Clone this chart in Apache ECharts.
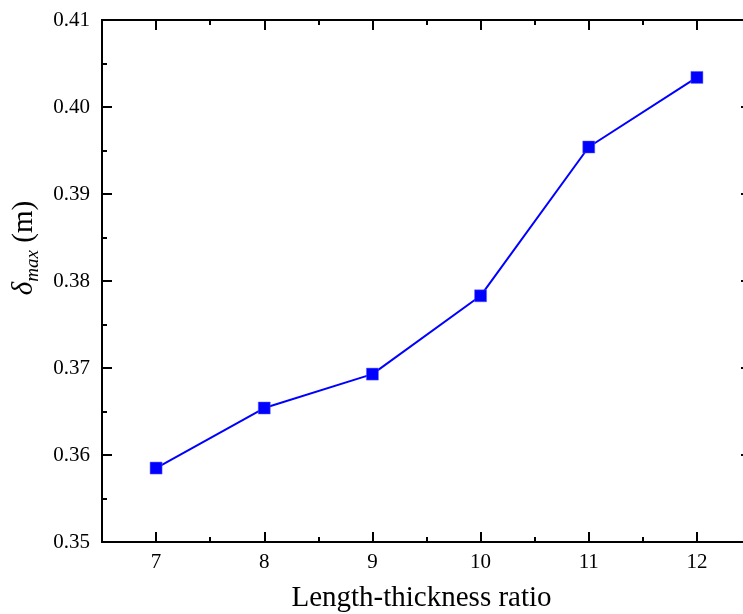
<!DOCTYPE html>
<html>
<head>
<meta charset="utf-8">
<script src="https://cdn.jsdelivr.net/npm/echarts@6/dist/echarts.min.js"></script>
<style>html,body{margin:0;padding:0;background:#fff;}#c{width:743px;height:614px;}</style>
</head>
<body>
<div id="c"></div>
<script>
// Data
var ratios = [7, 8, 9, 10, 11, 12];
var deltaMax = [0.3585, 0.3654, 0.3693, 0.3783, 0.3954, 0.4034];
var xTickValues = [7, 8, 9, 10, 11, 12];
var xMinorTickValues = [7.5, 8.5, 9.5, 10.5, 11.5];
var yTickValues = [0.35, 0.36, 0.37, 0.38, 0.39, 0.40, 0.41];
var yMinorTickValues = [0.355, 0.365, 0.375, 0.385, 0.395, 0.405];
var xAxisTitle = 'Length-thickness ratio';

var FONT = 'Liberation Serif';
var GRID_W = 649;
var chart = echarts.init(document.getElementById('c'));
var seriesData = ratios.map(function (r, i) { return [r, deltaMax[i]]; });
function axLine() { return {show: true, onZero: false, lineStyle: {color: '#000', width: 2}}; }

function xAx(pos, ticks, len, labels) {
  return {
    type: 'value', position: pos, min: 6.5, max: 12.5,
    axisLine: axLine(),
    axisTick: {show: true, inside: true, length: len, customValues: ticks, lineStyle: {color: '#000', width: 2}},
    axisLabel: labels ? {show: true, customValues: ticks, margin: 10, color: '#000', fontFamily: FONT, fontSize: 21} : {show: false},
    splitLine: {show: false}
  };
}
function yTickAx(pos, ticks, len, extra) {
  var a = {
    type: 'value', position: pos, min: 0.35, max: 0.41,
    axisLine: axLine(),
    axisTick: {show: true, inside: true, length: len, customValues: ticks, lineStyle: {color: '#000', width: 2}},
    axisLabel: {show: false},
    splitLine: {show: false}
  };
  return Object.assign(a, extra || {});
}

var option = {
  backgroundColor: '#fff',
  animation: false,
  grid: {left: 102, top: 20, width: GRID_W, height: 522, outerBoundsMode: 'none', containLabel: false},
  xAxis: [
    Object.assign(xAx('bottom', xTickValues, 10, true), {
      name: xAxisTitle, nameLocation: 'middle', nameGap: 42,
      nameTextStyle: {color: '#000', fontFamily: FONT, fontSize: 29, padding: [0, 10, 0, 0]}
    }),
    xAx('bottom', xMinorTickValues, 5, false),
    xAx('top', xTickValues, 10, false),
    xAx('top', xMinorTickValues, 5, false)
  ],
  yAxis: [
    {
      type: 'value', position: 'left', min: 0.35, max: 0.41, interval: 0.01,
      axisLine: axLine(),
      axisTick: {show: true, inside: true, length: 10, lineStyle: {color: '#000', width: 2}},
      axisLabel: {color: '#000', fontFamily: FONT, fontSize: 21, margin: 12,
        formatter: function (v) { return v.toFixed(2); }},
      splitLine: {show: false},
      name: '{d|δ}{s|max}{n| (m)}', nameLocation: 'middle', nameGap: 53,
      nameTextStyle: {
        color: '#000', fontFamily: FONT, fontSize: 29, padding: [0, 0, 0, 66],
        rich: {
          d: {fontFamily: FONT, fontSize: 29, fontStyle: 'italic', lineHeight: 36, verticalAlign: 'middle', color: '#000'},
          s: {fontFamily: FONT, fontSize: 19, fontStyle: 'italic', lineHeight: 36, verticalAlign: 'bottom', color: '#000'},
          n: {fontFamily: FONT, fontSize: 29, lineHeight: 36, verticalAlign: 'middle', color: '#000'}
        }
      }
    },
    yTickAx('left', yMinorTickValues, 5),
    // major ticks of the left frame edge: a right-side axis moved onto the left edge, ticks pointing into the plot
    yTickAx('right', yTickValues, 10, {
      offset: -GRID_W,
      axisLine: {show: false, onZero: false},
      axisTick: {show: true, inside: false, length: 10, customValues: yTickValues, lineStyle: {color: '#000', width: 2}}
    }),
    yTickAx('right', yTickValues, 10),
    yTickAx('right', yMinorTickValues, 5)
  ],
  series: [{
    type: 'line',
    data: seriesData,
    xAxisIndex: 0, yAxisIndex: 0,
    symbol: 'rect', symbolSize: 12,
    lineStyle: {color: '#0000ff', width: 2},
    itemStyle: {color: '#0000ff', borderColor: '#6060ff', borderWidth: 0.5}
  }]
};
chart.setOption(option);
</script>
</body>
</html>
